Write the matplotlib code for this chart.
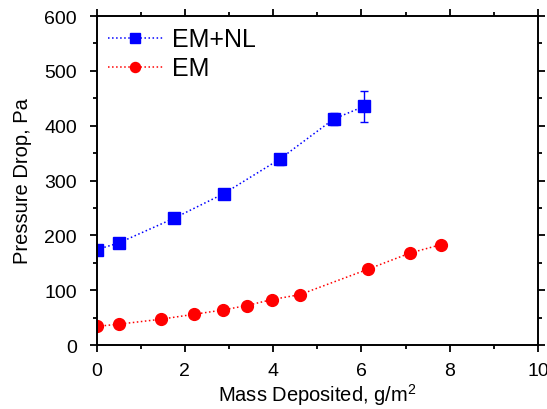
import numpy as np
import matplotlib.pyplot as plt
from matplotlib.ticker import MultipleLocator

plt.rcParams['font.family'] = ['Liberation Sans', 'DejaVu Sans']
plt.rcParams['mathtext.fontset'] = 'custom'
plt.rcParams['mathtext.rm'] = 'Liberation Sans'

# EM+NL data
x_emnl = [0.0, 0.5, 1.75, 2.88, 4.15, 5.37, 6.05]
y_emnl = [174, 186, 231, 276, 339, 412, 435]
err_emnl = [4, 3, 5, 8, 10, 11, 28]

# EM data
x_em = [0.0, 0.5, 1.45, 2.2, 2.87, 3.4, 3.98, 4.61, 6.14, 7.11, 7.8]
y_em = [34, 38, 47, 56, 64, 72, 83, 92, 138, 168, 183]
err_em = [2, 2, 2, 2, 2, 2, 2, 2, 3, 8, 3]

fig = plt.figure(figsize=(5.47, 4.10), dpi=100)
ax = fig.add_axes([0.1765, 0.156, 0.807, 0.8025])

blue = '#0000ff'
red = '#ff0000'

# error bars first, then lines/markers for legend
ax.errorbar(x_emnl, y_emnl, yerr=err_emnl, fmt='none', ecolor=blue, capsize=3, elinewidth=1)
ax.errorbar(x_em, y_em, yerr=err_em, fmt='none', ecolor=red, capsize=3, elinewidth=1)
ax.plot(x_emnl, y_emnl, color=blue, marker='s', markersize=8, linestyle=':',
        linewidth=1.1, label='EM+NL')
ax.plot(x_em, y_em, color=red, marker='o', markersize=8.5, linestyle=':',
        linewidth=1.1, label='EM')

ax.set_xlim(0, 10)
ax.set_ylim(0, 600)
ax.xaxis.set_major_locator(MultipleLocator(2))
ax.xaxis.set_minor_locator(MultipleLocator(1))
ax.yaxis.set_major_locator(MultipleLocator(100))
ax.yaxis.set_minor_locator(MultipleLocator(50))
ax.tick_params(which='both', direction='out', top=True, right=True, labelsize=14, width=1.3)
ax.tick_params(which='major', length=5)
ax.tick_params(which='minor', length=3)
ax.tick_params(axis='x', which='major', pad=7)
ax.tick_params(axis='y', which='major', pad=9)
for s in ax.spines.values():
    s.set_linewidth(1.4)

ax.set_xlabel('Mass Deposited, g/m$^2$', fontsize=14.5, labelpad=2)
ax.set_ylabel('Pressure Drop, Pa', fontsize=14.5, labelpad=9)

ax.legend(loc='upper left', fontsize=18, frameon=False, handlelength=2.2,
          handletextpad=0.35, borderaxespad=0.15, borderpad=0.3, labelspacing=0.2,
          markerscale=0.85)

fig.savefig('out.png', dpi=100)
